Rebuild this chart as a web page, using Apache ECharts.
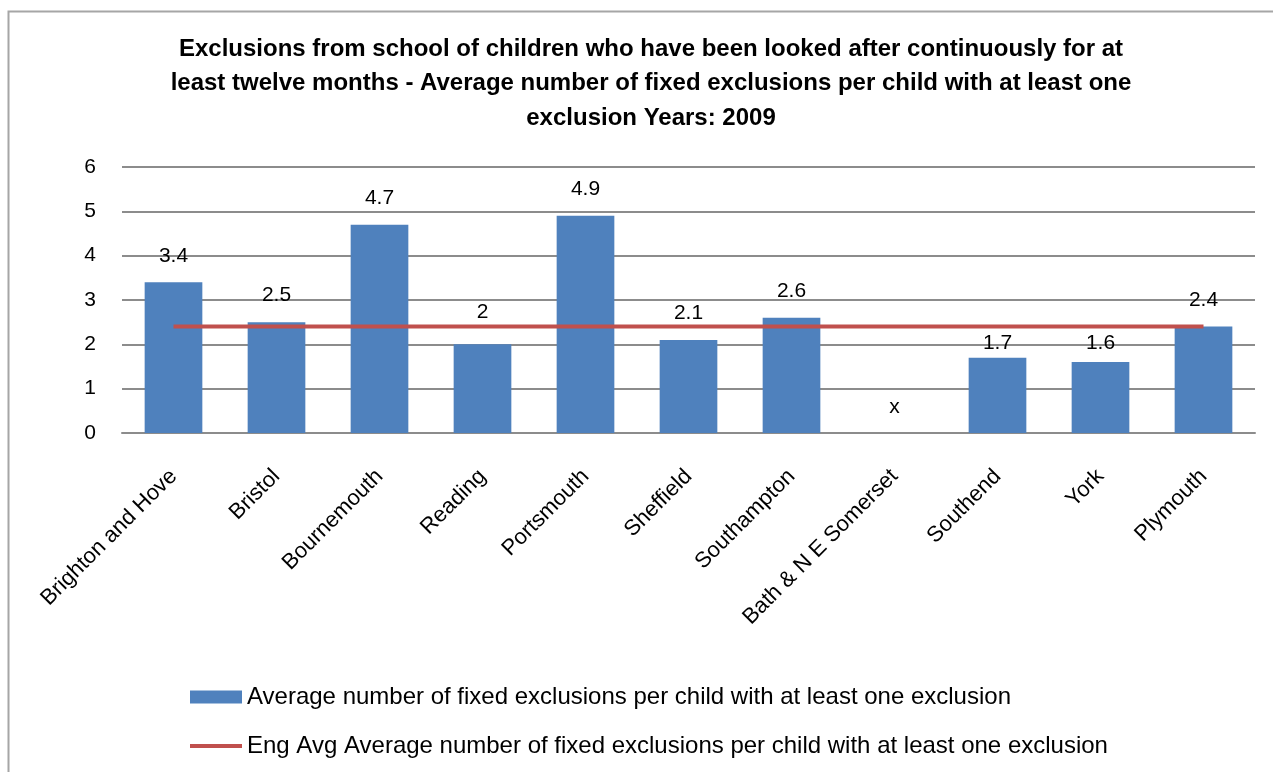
<!DOCTYPE html>
<html>
<head>
<meta charset="utf-8">
<script src="https://cdn.jsdelivr.net/npm/echarts@6/dist/echarts.min.js"></script>
<style>
  html, body { margin: 0; padding: 0; background: #ffffff; }
  #chart { width: 1273px; height: 772px; }
</style>
</head>
<body>
<div id="chart"></div>
<script>
// Local authorities compared
const categories = [
  'Brighton and Hove', 'Bristol', 'Bournemouth', 'Reading', 'Portsmouth',
  'Sheffield', 'Southampton', 'Bath & N E Somerset', 'Southend', 'York', 'Plymouth'
];
// Average number of fixed exclusions per child with at least one exclusion (null = suppressed, shown as "x")
const exclusions = [3.4, 2.5, 4.7, 2, 4.9, 2.1, 2.6, null, 1.7, 1.6, 2.4];
// England average for the same measure
const engAvg = [2.4, 2.4, 2.4, 2.4, 2.4, 2.4, 2.4, 2.4, 2.4, 2.4, 2.4];
// Value axis ticks
const yTicks = [0, 1, 2, 3, 4, 5, 6];

const seriesNames = [
  'Average number of fixed exclusions per child with at least one exclusion',
  'Eng Avg Average number of fixed exclusions per child with at least one exclusion'
];

const FONT = '"Liberation Sans", Arial, sans-serif';

// Label gap above each bar, nudged where labels would collide with the average line
const labelGap = [16, 16, 16, 22, 16, 16, 16, 15, 4, 8, 16];

const barData = exclusions.map((v, i) => v === null
  ? { value: 0, label: { formatter: 'x', distance: labelGap[i] } }
  : { value: v, label: { distance: labelGap[i] } });

const chart = echarts.init(document.getElementById('chart'), null, { renderer: 'canvas' });
chart.setOption({
  backgroundColor: '#ffffff',
  animation: false,
  graphic: [{
    type: 'rect',
    shape: { x: 8.5, y: 11.5, width: 1300, height: 800 },
    style: { fill: 'none', stroke: '#a6a6a6', lineWidth: 2 },
    silent: true, z: -1
  }],
  title: {
    text: 'Exclusions from school of children who have been looked after continuously for at\nleast twelve months - Average number of fixed exclusions per child with at least one\nexclusion Years: 2009',
    left: 646, top: 27, textAlign: 'center',
    textStyle: { fontFamily: FONT, fontSize: 24, fontWeight: 'bold', color: '#000', lineHeight: 34.5 }
  },
  legend: [{
    orient: 'vertical', left: 185, top: 680,
    itemWidth: 52, itemHeight: 13, itemGap: 6,
    data: [{ name: seriesNames[0], icon: 'rect' }],
    textStyle: { fontFamily: FONT, fontSize: 24, color: '#000' }
  }, {
    orient: 'vertical', left: 185, top: 729,
    itemWidth: 52, itemHeight: 4, itemGap: 6,
    data: [{ name: seriesNames[1], icon: 'rect' }],
    textStyle: { fontFamily: FONT, fontSize: 24, color: '#000' }
  }],
  grid: { left: 122, right: 18, top: 167, bottom: 339 },
  xAxis: {
    type: 'category',
    data: categories,
    axisLine: { lineStyle: { color: '#8c8c8c', width: 2 } },
    axisTick: { show: false },
    axisLabel: {
      rotate: 45, interval: 0, margin: 40,
      fontFamily: FONT, fontSize: 22, color: '#000'
    }
  },
  yAxis: {
    type: 'value', min: yTicks[0], max: yTicks[yTicks.length - 1], interval: 1,
    axisLine: { show: false },
    axisTick: { show: false },
    splitLine: { lineStyle: { color: '#8c8c8c', width: 2 } },
    axisLabel: { margin: 26, fontFamily: FONT, fontSize: 21, color: '#000' }
  },
  series: [{
    name: seriesNames[0],
    type: 'bar',
    data: barData,
    barWidth: '56%',
    itemStyle: { color: '#4F81BD' },
    label: {
      show: true, position: 'top',
      fontFamily: FONT, fontSize: 21, color: '#000'
    },
    z: 2
  }, {
    name: seriesNames[1],
    type: 'line',
    data: engAvg,
    symbol: 'none',
    lineStyle: { color: '#C0504D', width: 4 },
    itemStyle: { color: '#C0504D' },
    z: 3
  }]
});
</script>
</body>
</html>
